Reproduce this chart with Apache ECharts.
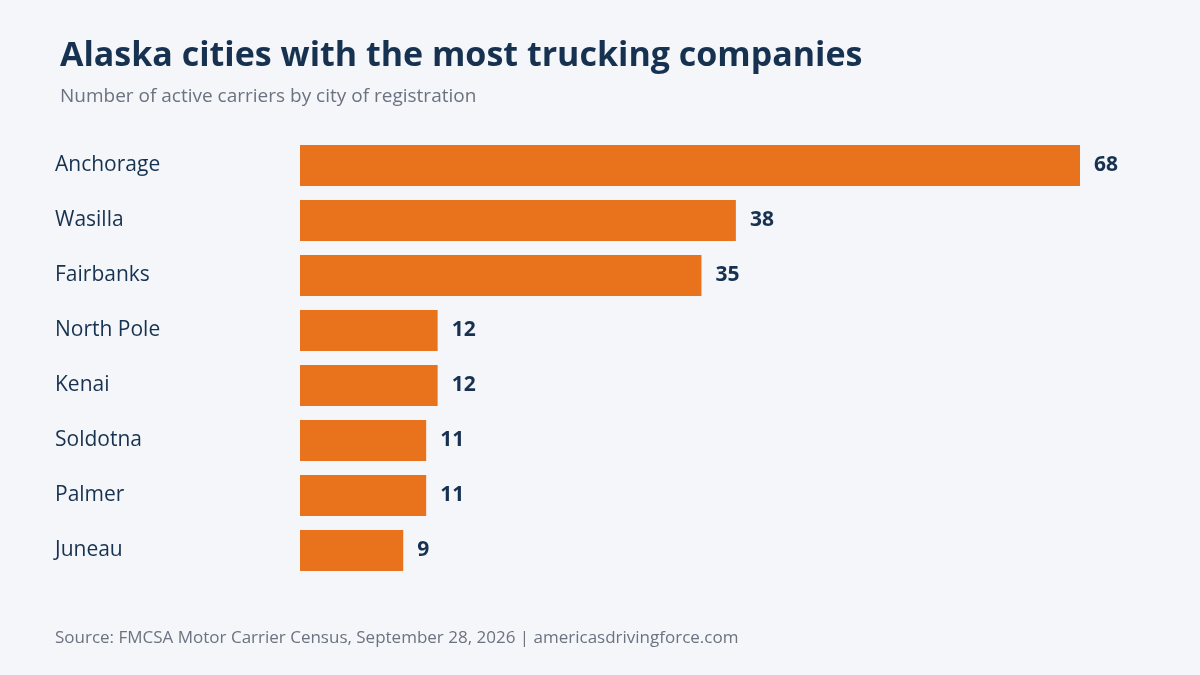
<!DOCTYPE html>
<html>
<head>
<meta charset="utf-8">
<script src="https://cdn.jsdelivr.net/npm/echarts@6/dist/echarts.min.js"></script>
<style>
	html, body { margin: 0; padding: 0; background: #f4f6fa; }
	#chart { width: 1200px; height: 675px; }
</style>
</head>
<body>
<div id="chart"></div>
<script>
const cities = [ 'Anchorage', 'Wasilla', 'Fairbanks', 'North Pole', 'Kenai', 'Soldotna', 'Palmer', 'Juneau' ]
const carriers = [ 68, 38, 35, 12, 12, 11, 11, 9 ]

const font = '"Open Sans", "Noto Sans", sans-serif'
const chart = echarts.init(document.getElementById('chart'))
chart.setOption({
	backgroundColor: '#f4f6fa',
	textStyle: { fontFamily: font },
	title: {
		text: 'Alaska cities with the most trucking companies',
		subtext: 'Number of active carriers by city of registration',
		left: 55,
		top: 34,
		itemGap: 14,
		textStyle: { fontSize: 34, fontWeight: 'bold', color: '#173250', fontFamily: font },
		subtextStyle: { fontSize: 19, color: '#6b7280', fontFamily: font }
	},
	graphic: [ {
		type: 'text',
		left: 55,
		top: 630,
		style: {
			text: 'Source: FMCSA Motor Carrier Census, September 28, 2026 | americasdrivingforce.com',
			fontSize: 17,
			fill: '#6b7280',
			fontFamily: font
		}
	} ],
	grid: { left: 300, right: 120, top: 138, bottom: 97, containLabel: false },
	xAxis: { type: 'value', min: 0, max: 68, show: false },
	yAxis: {
		type: 'category',
		inverse: true,
		data: cities,
		axisLine: { show: false },
		axisTick: { show: false },
		axisLabel: { align: 'left', margin: 245, fontSize: 21, color: '#173250', fontFamily: font }
	},
	series: [ {
		type: 'bar',
		data: carriers,
		barWidth: 41,
		itemStyle: { color: '#e8731c' },
		label: {
			show: true,
			position: 'right',
			distance: 14,
			fontSize: 21,
			fontWeight: 'bold',
			color: '#173250',
			fontFamily: font
		}
	} ]
})
</script>
</body>
</html>
